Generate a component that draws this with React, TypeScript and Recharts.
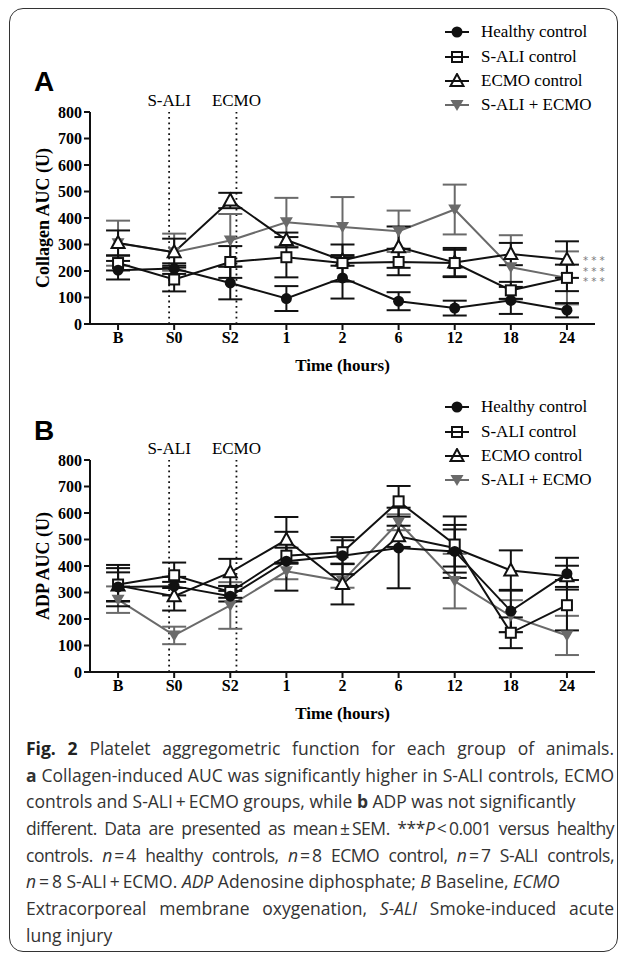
import React from 'react';
import {
  LineChart,
  Line,
  XAxis,
  YAxis,
  ErrorBar,
  ReferenceLine,
  Legend,
} from 'recharts';

// x categories
const timeLabels = ['B', 'S0', 'S2', '1', '2', '6', '12', '18', '24'];

// Collagen AUC (U), mean and SEM
const colHealthy = [203, 209, 155, 96, 174, 86, 60, 89, 52];
const colHealthyErr = [35, 20, 62, 47, 78, 34, 28, 51, 27];
const colSali = [230, 168, 234, 252, 230, 234, 230, 127, 174];
const colSaliErr = [28, 45, 60, 76, 70, 50, 50, 32, 50];
const colEcmo = [306, 271, 466, 317, 240, 290, 232, 264, 243];
const colEcmoErr = [47, 51, 29, 28, 20, 78, 55, 42, 69];
const colBoth = [305, 271, 315, 384, 366, 350, 432, 214, 174];
const colBothErr = [85, 70, 100, 92, 113, 78, 94, 121, 100];

// ADP AUC (U), mean and SEM
const adpHealthy = [321, 324, 286, 418, 439, 468, 455, 230, 371];
const adpHealthyErr = [55, 35, 20, 111, 70, 152, 100, 80, 60];
const adpSali = [330, 365, 302, 439, 452, 644, 481, 148, 252];
const adpSaliErr = [62, 48, 22, 30, 45, 58, 106, 58, 95];
const adpEcmo = [326, 286, 376, 499, 332, 512, 468, 383, 361];
const adpEcmoErr = [78, 54, 51, 86, 77, 40, 70, 76, 40];
const adpBoth = [273, 138, 251, 380, 343, 565, 343, 211, 138];
const adpBothErr = [50, 33, 88, 30, 25, 30, 103, 60, 74];

// event markers (position on the time axis)
const events = [
  { name: 'S-ALI', at: 0.91 },
  { name: 'ECMO', at: 2.11 },
];

const yTicks = [0, 100, 200, 300, 400, 500, 600, 700, 800];

const BLACK = '#111';
const GRAY = '#6a6a6a';
const SERIF = '"Liberation Serif", "Times New Roman", serif';
const T = '\u2009'; // thin space, as in the caption typesetting

const buildRows = (hc: number[], hcE: number[], sa: number[], saE: number[], ec: number[], ecE: number[], bo: number[], boE: number[]) =>
  timeLabels.map((_, i) => ({
    t: i,
    hc: hc[i], hcE: hcE[i],
    sa: sa[i], saE: saE[i],
    ec: ec[i], ecE: ecE[i],
    bo: bo[i], boE: boE[i],
  }));

const collagenRows = buildRows(colHealthy, colHealthyErr, colSali, colSaliErr, colEcmo, colEcmoErr, colBoth, colBothErr);
const adpRows = buildRows(adpHealthy, adpHealthyErr, adpSali, adpSaliErr, adpEcmo, adpEcmoErr, adpBoth, adpBothErr);

const circleDot = (p: any) => <circle key={p.index} cx={p.cx} cy={p.cy} r={5.5} fill={BLACK} />;
const squareDot = (p: any) => (
  <rect key={p.index} x={p.cx - 5} y={p.cy - 5} width={10} height={10} fill="#fff" stroke={BLACK} strokeWidth={2} />
);
const triUpDot = (p: any) => (
  <path key={p.index} d={`M${p.cx},${p.cy - 7}L${p.cx + 6.5},${p.cy + 5}L${p.cx - 6.5},${p.cy + 5}Z`} fill="#fff" stroke={BLACK} strokeWidth={2} />
);
const triDownDot = (p: any) => (
  <path key={p.index} d={`M${p.cx - 6.5},${p.cy - 5}L${p.cx + 6.5},${p.cy - 5}L${p.cx},${p.cy + 6}Z`} fill={GRAY} />
);

const series = [
  { name: 'Healthy control', color: BLACK, shape: 'circle' },
  { name: 'S-ALI control', color: BLACK, shape: 'square' },
  { name: 'ECMO control', color: BLACK, shape: 'triUp' },
  { name: 'S-ALI + ECMO', color: GRAY, shape: 'triDown' },
];

const LegendMarker = ({ shape, color }: { shape: string; color: string }) => (
  <svg width={24} height={16} style={{ display: 'block' }}>
    <line x1={0} x2={24} y1={8} y2={8} stroke={color} strokeWidth={2} />
    {shape === 'circle' && <circle cx={12} cy={8} r={5.5} fill={color} />}
    {shape === 'square' && <rect x={7} y={3} width={10} height={10} fill="none" stroke={color} strokeWidth={2} />}
    {shape === 'triUp' && <path d="M12,1L18.5,13L5.5,13Z" fill="none" stroke={color} strokeWidth={2} />}
    {shape === 'triDown' && <path d="M5.5,3L18.5,3L12,14Z" fill={color} />}
  </svg>
);

const LegendBox = () => (
  <div style={{ fontFamily: SERIF, fontSize: 17, color: '#000' }}>
    {series.map((s) => (
      <div key={s.name} style={{ display: 'flex', alignItems: 'center', height: 24.4, whiteSpace: 'nowrap' }}>
        <LegendMarker shape={s.shape} color={s.color} />
        <span style={{ marginLeft: 12 }}>{s.name}</span>
      </div>
    ))}
  </div>
);

const Panel = ({ rows, yLabel, legendTop }: { rows: any[]; yLabel: string; legendTop: number }) => (
  <LineChart width={627} height={380} data={rows} margin={{ top: 112, right: 32, bottom: 6, left: 0 }}>
    <XAxis
      type="number"
      dataKey="t"
      domain={[-0.5, 8.5]}
      ticks={timeLabels.map((_, i) => i)}
      interval={0}
      tickFormatter={(v: number) => timeLabels[v]}
      height={50}
      tickSize={6}
      axisLine={{ stroke: BLACK, strokeWidth: 2 }}
      tickLine={{ stroke: BLACK, strokeWidth: 2 }}
      tick={{ fontFamily: SERIF, fontWeight: 700, fontSize: 16, fill: '#000' }}
      label={{ value: 'Time (hours)', position: 'insideBottom', offset: 3, fontFamily: SERIF, fontWeight: 700, fontSize: 17, fill: '#000' }}
    />
    <YAxis
      domain={[0, 800]}
      ticks={yTicks}
      interval={0}
      width={90}
      tickSize={6}
      axisLine={{ stroke: BLACK, strokeWidth: 2 }}
      tickLine={{ stroke: BLACK, strokeWidth: 2 }}
      tick={{ fontFamily: SERIF, fontWeight: 700, fontSize: 16, fill: '#000' }}
      label={{ value: yLabel, angle: -90, position: 'center', dx: -2, fontFamily: SERIF, fontWeight: 700, fontSize: 18, fill: '#000' }}
    />
    {events.map((e) => (
      <ReferenceLine
        key={e.name}
        x={e.at}
        stroke={BLACK}
        strokeWidth={1.8}
        strokeDasharray="1.8 3.6"
        label={{ value: e.name, position: 'top', offset: 6, fontFamily: SERIF, fontSize: 17, fill: '#000' }}
      />
    ))}
    <Line dataKey="bo" stroke={GRAY} strokeWidth={2} dot={triDownDot} isAnimationActive={false}>
      <ErrorBar dataKey="boE" width={12} stroke={GRAY} strokeWidth={2} direction="y" />
    </Line>
    <Line dataKey="ec" stroke={BLACK} strokeWidth={2} dot={triUpDot} isAnimationActive={false}>
      <ErrorBar dataKey="ecE" width={12} stroke={BLACK} strokeWidth={2} direction="y" />
    </Line>
    <Line dataKey="sa" stroke={BLACK} strokeWidth={2} dot={squareDot} isAnimationActive={false}>
      <ErrorBar dataKey="saE" width={12} stroke={BLACK} strokeWidth={2} direction="y" />
    </Line>
    <Line dataKey="hc" stroke={BLACK} strokeWidth={2} dot={circleDot} isAnimationActive={false}>
      <ErrorBar dataKey="hcE" width={12} stroke={BLACK} strokeWidth={2} direction="y" />
    </Line>
    <Legend
      layout="vertical"
      align="center"
      verticalAlign="middle"
      content={() => <LegendBox />}
      wrapperStyle={{ position: 'absolute', left: 445, top: legendTop, width: 180, height: 100 }}
    />
  </LineChart>
);

const cap: React.CSSProperties = {
  height: 26.7,
  lineHeight: '26.7px',
  textAlign: 'justify',
  textAlignLast: 'justify',
};
const capTight: React.CSSProperties = { ...cap, letterSpacing: -0.45 };
const capLeft: React.CSSProperties = { ...cap, textAlign: 'left', textAlignLast: 'left' };

export default function App() {
  return (
    <div style={{ position: 'absolute', left: 0, top: 0, width: 627, height: 956, background: '#fff' }}>
      <div
        style={{
          position: 'absolute', left: 9, top: 8, width: 609, height: 944,
          border: '1.5px solid #333', borderRadius: 14, boxSizing: 'border-box',
        }}
      />
      <div style={{ position: 'absolute', left: 0, top: 0 }}>
        <Panel rows={collagenRows} yLabel="Collagen AUC (U)" legendTop={20} />
      </div>
      <div style={{ position: 'absolute', left: 0, top: 348 }}>
        <Panel rows={adpRows} yLabel="ADP AUC (U)" legendTop={47} />
      </div>
      <div style={{ position: 'absolute', left: 34, top: 66, fontFamily: '"Liberation Sans", Arial, sans-serif', fontWeight: 700, fontSize: 28, lineHeight: '32px' }}>A</div>
      <div style={{ position: 'absolute', left: 34, top: 415, fontFamily: '"Liberation Sans", Arial, sans-serif', fontWeight: 700, fontSize: 28, lineHeight: '32px' }}>B</div>
      <div style={{ position: 'absolute', left: 583, top: 255, fontFamily: '"DejaVu Sans", sans-serif', fontSize: 10.4, lineHeight: '10.5px', color: '#7a7a7a', letterSpacing: 3 }}>
        ***<br />***<br />***
      </div>
      <div style={{ position: 'absolute', left: 26, top: 735, width: 588, fontFamily: '"Open Sans", sans-serif', fontSize: 17.5, color: '#333' }}>
        <div style={cap}><b style={{ color: '#222' }}>Fig. 2</b> Platelet aggregometric function for each group of animals.</div>
        <div style={cap}><b>a</b> Collagen-induced AUC was significantly higher in S-ALI controls, ECMO</div>
        <div style={capLeft}>controls and S-ALI{T}+{T}ECMO groups, while <b>b</b> ADP was not significantly</div>
        <div style={capTight}>different. Data are presented as mean{T}±{T}SEM. ***<i>P</i>{T}&lt;{T}0.001 versus healthy</div>
        <div style={capTight}>controls. <i>n</i>{T}={T}4 healthy controls, <i>n</i>{T}={T}8 ECMO control, <i>n</i>{T}={T}7 S-ALI controls,</div>
        <div style={capLeft}><i>n</i>{T}={T}8 S-ALI{T}+{T}ECMO. <i>ADP</i> Adenosine diphosphate; <i>B</i> Baseline, <i>ECMO</i></div>
        <div style={cap}>Extracorporeal membrane oxygenation, <i>S-ALI</i> Smoke-induced acute</div>
        <div style={capLeft}>lung injury</div>
      </div>
    </div>
  );
}
